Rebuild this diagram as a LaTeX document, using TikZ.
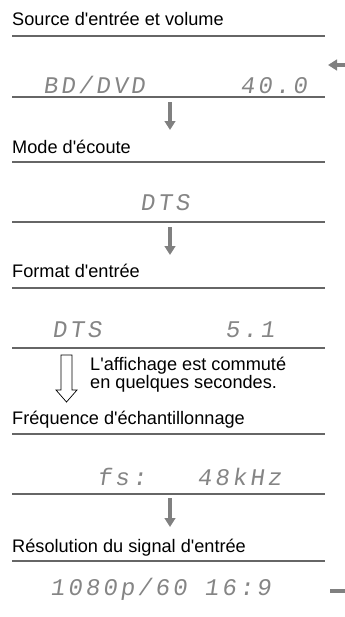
\documentclass[tikz,border=0pt]{standalone}
\usepackage{fontspec}
\setmainfont{Liberation Sans}
\newfontfamily\lcdfont[FakeSlant=0.15,LetterSpace=13]{Liberation Mono}
\newcommand{\q}{\textquotesingle}
\usetikzlibrary{arrows.meta}

\begin{document}
\begin{tikzpicture}[
    x=0.03cm, y=-0.03cm,
    mytitle/.style={anchor=base west, inner sep=0pt, font=\fontsize{15.5}{18}\selectfont},
    mylcd/.style={anchor=base west, inner sep=0pt, text=black!48, font=\lcdfont\fontsize{20.4}{24}\selectfont},
    mysep/.style={draw=black!60, line width=1pt},
    myarrow/.style={draw=black!50, line width=3.4pt, -{Triangle[width=0.32cm,length=0.27cm]}},
    myloop/.style={draw=black!50, line width=4pt},
]
\useasboundingbox (0,0) rectangle (345,617);

% titles
\node[mytitle] (t1) at (12,25)  {Source d\q entrée et volume};
\node[mytitle] (t2) at (12,153) {Mode d\q écoute};
\node[mytitle] (t3) at (12,277) {Format d\q entrée};
\node[mytitle] (t4) at (12,424) {Fréquence d\q échantillonnage};
\node[mytitle] (t5) at (12,552) {Résolution du signal d\q entrée};

% display contents
\node[mylcd] (d1a) at (43,93)   {BD/DVD};
\node[mylcd] (d1b) at (240,93)  {40.0};
\node[mylcd] (d2)  at (140,210) {DTS};
\node[mylcd] (d3a) at (52,337)  {DTS};
\node[mylcd] (d3b) at (225,337) {5.1};
\node[mylcd] (d4a) at (97,485)  {fs:};
\node[mylcd] (d4b) at (197,485) {48kHz};
\node[mylcd] (d5)  at (50,595)  {1080p/60 16:9};

% separators
\foreach \y in {36,97,162,222,288,348,434,494,561}
    \draw[mysep] (12,\y) -- (325,\y);

% arrows between steps
\coordinate (a1s) at (170,102);
\coordinate (a1e) at (170,130);
\coordinate (a2s) at (170,227);
\coordinate (a2e) at (170,255);
\coordinate (a3s) at (170,498);
\coordinate (a3e) at (170,527);
\draw[myarrow] (a1s) -- (a1e);
\draw[myarrow] (a2s) -- (a2e);
\draw[myarrow] (a3s) -- (a3e);

% hollow arrow and note
\draw[black, line width=0.6pt, line join=miter]
    (61,355) -- (72,355) -- (72,390) -- (77,390) -- (66.5,402) -- (56,390) -- (61,390) -- cycle;
\node[mytitle] (n1) at (90,370) {L\q affichage est commuté};
\node[mytitle] (n2) at (90,388) {en quelques secondes.};

% loop back on the right
\coordinate (ls) at (330,591);
\coordinate (le) at (328,65);
\draw[myloop] (ls) -- (347.5,591) -- (347.5,65);
\draw[myarrow, line width=4pt] (347.5,65) -- (le);
\end{tikzpicture}
\end{document}
